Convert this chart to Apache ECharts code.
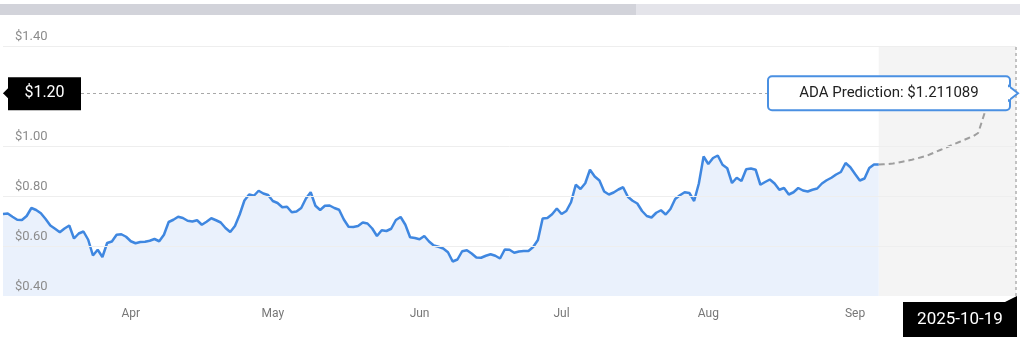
<!DOCTYPE html>
<html><head><meta charset="utf-8">
<script src="https://cdn.jsdelivr.net/npm/echarts@6/dist/echarts.min.js"></script>
<style>html,body{margin:0;padding:0;background:#fff}#c{width:1024px;height:348px}</style>
</head><body><div id="c"></div>
<script>
const START_DATE = '2025-03-19';
const END_DATE = '2025-10-19';
const MONTH_NAMES = ['Jan','Feb','Mar','Apr','May','Jun','Jul','Aug','Sep','Oct','Nov','Dec'];
const GRID_VALUES = [1.4, 1.0, 0.8, 0.6];
const PRICE_LABEL = '$1.20';
const PREDICTION = 1.211089;
const PREDICTION_TEXT = 'ADA Prediction: $1.211089';

// daily closing price, 2025-03-19 .. 2025-09-20
const history = [
0.728,0.730,0.717,0.705,0.704,0.720,0.752,0.744,0.731,0.708,
0.682,0.669,0.655,0.670,0.682,0.630,0.650,0.658,0.625,0.562,
0.585,0.556,0.612,0.618,0.645,0.647,0.637,0.619,0.611,0.616,
0.617,0.621,0.628,0.619,0.645,0.696,0.705,0.717,0.712,0.701,
0.698,0.703,0.685,0.697,0.711,0.703,0.694,0.672,0.656,0.680,
0.726,0.782,0.806,0.801,0.821,0.810,0.804,0.780,0.772,0.755,
0.757,0.735,0.738,0.752,0.790,0.815,0.761,0.744,0.761,0.762,
0.752,0.745,0.706,0.677,0.676,0.680,0.694,0.690,0.670,0.640,
0.663,0.660,0.669,0.704,0.716,0.685,0.635,0.632,0.627,0.640,
0.618,0.602,0.597,0.590,0.575,0.538,0.546,0.579,0.583,0.570,
0.554,0.553,0.561,0.567,0.561,0.550,0.586,0.585,0.573,0.578,
0.580,0.580,0.596,0.624,0.710,0.712,0.727,0.750,0.728,0.740,
0.775,0.845,0.828,0.851,0.905,0.878,0.862,0.818,0.806,0.814,
0.826,0.835,0.797,0.781,0.770,0.740,0.720,0.714,0.733,0.743,
0.726,0.748,0.788,0.803,0.815,0.812,0.780,0.850,0.958,0.928,
0.952,0.962,0.925,0.911,0.852,0.873,0.860,0.907,0.910,0.905,
0.845,0.856,0.866,0.850,0.825,0.832,0.806,0.815,0.832,0.822,
0.818,0.825,0.830,0.850,0.863,0.873,0.886,0.896,0.932,0.915,
0.888,0.862,0.870,0.912,0.926,0.926
];
// predicted price, 2025-09-20 .. 2025-10-19
const forecast = [
0.926,0.927,0.928,0.930,0.933,0.937,0.941,0.945,0.950,0.955,
0.960,0.968,0.976,0.984,0.992,1.000,1.008,1.016,1.024,1.032,
1.040,1.052,1.110,1.170,1.185,1.192,1.198,1.203,1.207,1.211089
];

function buildDates(a, b) {
  const out = [];
  let t = Date.parse(a + 'T00:00:00Z');
  const end = Date.parse(b + 'T00:00:00Z');
  while (t <= end) { out.push(new Date(t).toISOString().slice(0, 10)); t += 86400000; }
  return out;
}
const dates = buildDates(START_DATE, END_DATE);
const fStart = history.length - 1;
const histData = dates.map((d, i) => i < history.length ? history[i] : null);
const fcData = dates.map((d, i) => i >= fStart ? forecast[i - fStart] : null);
const lastIdx = dates.length - 1;

const FONT = 'Roboto, "Noto Sans", sans-serif';
const chart = echarts.init(document.getElementById('c'), null, {renderer: 'canvas'});
chart.setOption({
  animation: false,
  backgroundColor: '#fff',
  textStyle: {fontFamily: FONT},
  grid: {left: 3, right: 8, top: 46, bottom: 52, containLabel: false},
  xAxis: {
    type: 'category', data: dates, boundaryGap: false,
    axisLine: {show: false}, axisTick: {show: false}, splitLine: {show: false},
    axisLabel: {
      interval: (i, v) => v.slice(8) === '15',
      formatter: v => MONTH_NAMES[+v.slice(5, 7) - 1],
      color: '#777', fontSize: 12, margin: 12, fontFamily: FONT
    }
  },
  yAxis: {
    type: 'value', min: 0.4, max: 1.4, interval: 0.2, z: 10,
    axisLine: {show: false}, axisTick: {show: false}, splitLine: {show: false},
    axisLabel: {
      inside: true, margin: 12, verticalAlign: 'bottom', padding: [0, 0, 3, 0],
      color: '#8c8c8c', fontSize: 13, fontFamily: FONT, showMinLabel: true, showMaxLabel: true,
      formatter: v => Math.abs(v - 1.2) < 1e-6 ? '' : '$' + v.toFixed(2)
    }
  },
  series: [
    {
      name: 'history', type: 'line', data: histData, showSymbol: false, z: 3,
      lineStyle: {color: '#3f87e0', width: 2.5}, itemStyle: {color: '#3f87e0'},
      areaStyle: {color: '#eaf1fc', opacity: 1},
      markArea: {
        silent: true, itemStyle: {color: '#f4f4f4'},
        data: [[{xAxis: dates[fStart]}, {xAxis: dates[lastIdx]}]]
      },
      markLine: {
        silent: true, symbol: 'none', label: {show: false}, animation: false,
        data: GRID_VALUES.map(v => ({yAxis: v, lineStyle: {color: '#eeeeee', width: 1, type: 'solid'}}))
          .concat([
            {yAxis: PREDICTION, lineStyle: {color: '#a8a8a8', width: 1, type: [3, 3]}},
            {xAxis: dates[lastIdx], lineStyle: {color: '#b0b0b0', width: 1.5, type: [3, 3]}}
          ])
      }
    },
    {
      name: 'forecast', type: 'line', data: fcData, showSymbol: false, z: 4,
      lineStyle: {color: '#9e9e9e', width: 2, type: [6, 4]}, itemStyle: {color: '#9e9e9e'}
    }
  ]
});

const px = chart.convertToPixel({xAxisIndex: 0, yAxisIndex: 0}, [lastIdx, PREDICTION]);
const xR = px[0], yP = px[1];
const bottomY = chart.convertToPixel({yAxisIndex: 0}, 0.4);
chart.setOption({
  graphic: [
    {type: 'rect', shape: {x: 0, y: 4, width: 636, height: 11}, style: {fill: '#d2d3da'}, silent: true},
    {type: 'rect', shape: {x: 636, y: 4, width: 384, height: 11}, style: {fill: '#e4e4ea'}, silent: true},
    // price tag on the left
    {type: 'polygon', shape: {points: [[3, yP], [9, yP - 6], [9, yP + 6]]}, style: {fill: '#000'}, z: 100},
    {type: 'rect', shape: {x: 8, y: yP - 16, width: 73, height: 33}, style: {fill: '#000'}, z: 100},
    {type: 'text', x: 44.5, y: yP, z: 101, style: {text: PRICE_LABEL, fill: '#fff', font: '16px ' + FONT, align: 'center', verticalAlign: 'middle'}},
    // prediction bubble
    {type: 'rect', shape: {x: xR - 248, y: yP - 17, width: 242, height: 34, r: 4}, style: {fill: '#fff', stroke: '#4a90e2', lineWidth: 2}, z: 100},
    {type: 'polygon', shape: {points: [[xR - 7, yP - 7], [xR + 2, yP], [xR - 7, yP + 7]]}, style: {fill: '#fff', stroke: '#4a90e2', lineWidth: 2}, z: 101},
    {type: 'rect', shape: {x: xR - 9, y: yP - 6, width: 3, height: 12}, style: {fill: '#fff'}, z: 102},
    {type: 'text', x: xR - 127, y: yP, z: 103, style: {text: PREDICTION_TEXT, fill: '#222', font: '15px ' + FONT, align: 'center', verticalAlign: 'middle'}},
    // date tag bottom right
    {type: 'polygon', shape: {points: [[xR - 12, bottomY + 6.5], [xR + 1, bottomY], [xR + 1, bottomY + 6.5]]}, style: {fill: '#000'}, z: 100},
    {type: 'rect', shape: {x: xR - 113, y: bottomY + 6, width: 114, height: 35}, style: {fill: '#000'}, z: 100},
    {type: 'text', x: xR - 56, y: bottomY + 23.5, z: 101, style: {text: END_DATE, fill: '#fff', font: '17px ' + FONT, align: 'center', verticalAlign: 'middle'}}
  ]
});
</script>
</body></html>
